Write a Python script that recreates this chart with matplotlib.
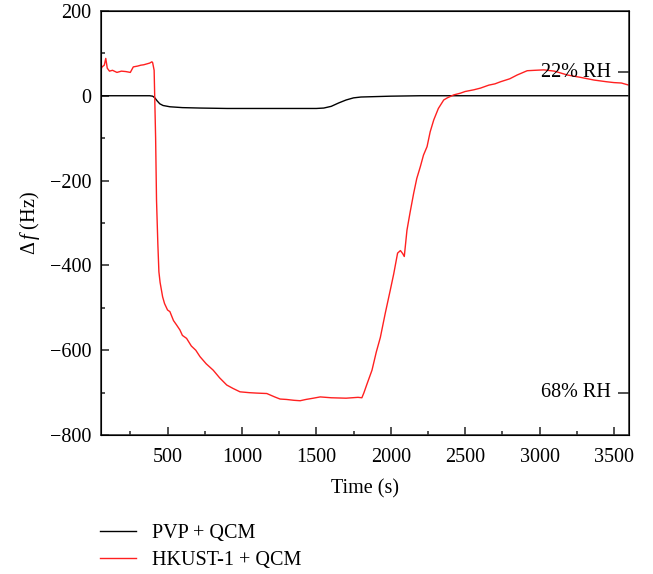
import matplotlib as mpl
import matplotlib.pyplot as plt
import matplotlib.transforms as mtransforms
from matplotlib.ticker import MultipleLocator

# PVP + QCM (black)
t_pvp = [50, 200, 380, 400, 415, 430, 448, 470, 516, 600, 718, 900, 1055, 1300,
         1500, 1550, 1600, 1650, 1700, 1750, 1800, 1900, 2000, 2200, 2500, 3000, 3600]
f_pvp = [0, 0, 0, -1, -5, -12, -19, -23, -26, -28, -29, -30, -30, -30,
         -30, -29, -25, -17, -10, -5, -3, -2, -1, 0, 0, 0, 0]

# HKUST-1 + QCM (red)
t_hk = [50, 60, 75, 85, 95, 110, 130, 160, 190, 220, 250, 270, 300, 320, 340, 360,
        380, 395, 400, 410, 420, 426, 435, 442, 450, 467, 480, 500, 516, 540, 560,
        583, 600, 628, 660, 690, 718, 760, 807, 850, 898, 940, 987, 1050, 1100,
        1167, 1220, 1256, 1300, 1350, 1391, 1430, 1480, 1526, 1600, 1700, 1780,
        1806, 1820, 1840, 1874, 1903, 1930, 1963, 1997, 2020, 2046, 2065, 2080,
        2091, 2109, 2130, 2154, 2175, 2199, 2220, 2244, 2265, 2289, 2320, 2356,
        2380, 2423, 2468, 2500, 2558, 2603, 2659, 2700, 2738, 2800, 2850, 2917,
        2970, 3029, 3100, 3186, 3280, 3366, 3450, 3500, 3550, 3600]
f_hk = [60, 68, 72, 88, 65, 58, 60, 55, 58, 57, 55, 68, 70, 72, 73, 75,
        77, 80, 78, 60, -100, -246, -350, -415, -440, -474, -490, -505, -509, -530, -540,
        -552, -565, -572, -590, -600, -615, -632, -647, -665, -682, -690, -698, -700, -701,
        -702, -710, -715, -716, -718, -719, -716, -713, -710, -712, -713, -711,
        -712, -700, -680, -647, -604, -570, -513, -458, -420, -371, -365, -372,
        -379, -317, -275, -230, -195, -167, -140, -120, -85, -57, -30, -10,
        -5, 2, 6, 10, 14, 18, 25, 28, 33, 40, 49, 59,
        60, 61, 58, 49, 43, 37, 33, 31, 30, 25]

rh_values = [55, -700]
rh_labels = ['22% RH', '68% RH']

plt.rcParams['font.family'] = ['Liberation Serif', 'DejaVu Serif']
plt.rcParams['mathtext.fontset'] = 'custom'
plt.rcParams['mathtext.rm'] = 'Liberation Serif'
plt.rcParams['mathtext.it'] = 'Liberation Serif:italic'
plt.rcParams['font.size'] = 14.5

fig = plt.figure(figsize=(6.53, 5.74), dpi=100)
ax = fig.add_axes([0.154, 0.242, 0.809, 0.739])

ax.plot(t_pvp, f_pvp, color='black', lw=1.0, label='PVP + QCM')
ax.plot(t_hk, f_hk, color='#ff2020', lw=1.0, label='HKUST-1 + QCM')

ax.set_xlim(50, 3600)
ax.set_ylim(-800, 200)
ax.xaxis.set_major_locator(MultipleLocator(500))
ax.xaxis.set_minor_locator(MultipleLocator(250))
ax.yaxis.set_major_locator(MultipleLocator(200))
ax.yaxis.set_minor_locator(MultipleLocator(100))
ax.set_xticks([500, 1000, 1500, 2000, 2500, 3000, 3500])
ax.tick_params(which='both', direction='in', width=1.1, color='#222222')
ax.tick_params(which='major', length=6)
ax.tick_params(which='minor', length=3.2)
ax.tick_params(axis='x', which='major', pad=9)
ax.tick_params(axis='y', which='major', pad=6.5)
for sp in ax.spines.values():
    sp.set_linewidth(1.2)
    sp.set_color('#333333')

ax.set_xlabel('Time (s)', labelpad=9)
ax.set_ylabel(r'$\Delta\,\mathit{f}$ (Hz)', labelpad=6)

# RH markers on the right
ax2 = ax.twinx()
ax2.set_ylim(ax.get_ylim())
ax2.set_yticks(rh_values)
ax2.tick_params(direction='in', length=8, width=1.1, color='#222222', labelright=False)
ax2.yaxis.set_minor_locator(mpl.ticker.NullLocator())
trans = mtransforms.blended_transform_factory(ax.transAxes, ax.transData)
for v, lab in zip(rh_values, rh_labels):
    ax.text(0.966, v, lab, transform=trans, ha='right', va='center')

fig.legend(loc='upper left', bbox_to_anchor=(0.141, 0.101), frameon=False,
           handlelength=1.8, handletextpad=0.8, labelspacing=0.4, borderaxespad=0)

fig.savefig('out.png', dpi=100)
